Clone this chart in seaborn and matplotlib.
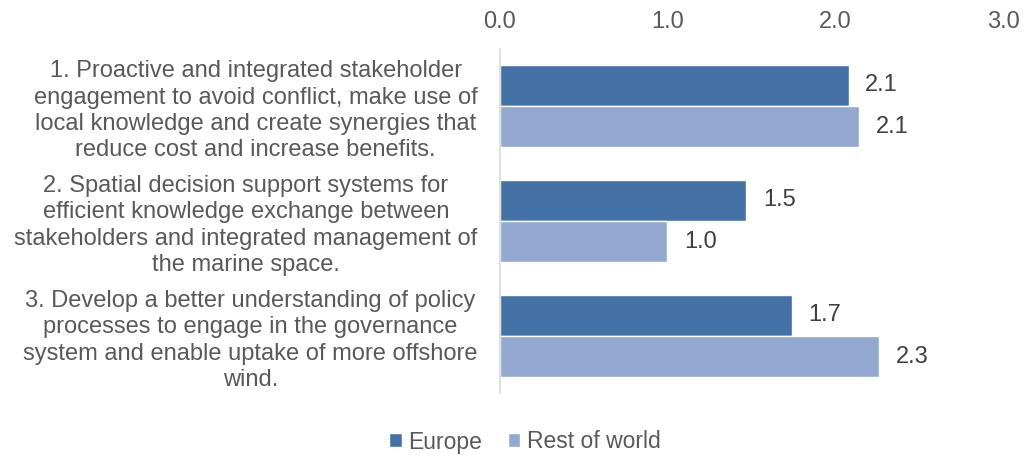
import matplotlib
matplotlib.use("Agg")
import matplotlib.pyplot as plt
import seaborn as sns
import pandas as pd

categories = [
    "1. Proactive and integrated stakeholder\nengagement to avoid conflict, make use of\nlocal knowledge and create synergies that\nreduce cost and increase benefits.",
    "2. Spatial decision support systems for\nefficient knowledge exchange between\nstakeholders and integrated management of\nthe marine space.",
    "3. Develop a better understanding of policy\nprocesses to engage in the governance\nsystem and enable uptake of more offshore\nwind.",
]
series = ["Europe", "Rest of world"]
europe = [2.08, 1.47, 1.74]
rest_of_world = [2.14, 1.00, 2.26]
xticks = [0.0, 1.0, 2.0, 3.0]

rows = []
for c, e, r in zip(categories, europe, rest_of_world):
    rows.append({"category": c, "series": series[0], "value": e})
    rows.append({"category": c, "series": series[1], "value": r})
df = pd.DataFrame(rows)

sns.set_theme(style="white")
plt.rcParams["font.family"] = ["Liberation Sans", "DejaVu Sans"]

FS = 17.0
fig = plt.figure(figsize=(10.24, 4.58), dpi=100)
ax = fig.add_axes([0.488, 0.141, 0.4915, 0.753])

palette = {"Europe": "#4472A6", "Rest of world": "#94A9D1"}
sns.barplot(data=df, y="category", x="value", hue="series", orient="h",
            palette=palette, width=0.72, ax=ax, saturation=1, legend=True)

ax.set_xlim(0, 3.0)
ax.set_xticks(xticks)
ax.set_xticklabels([f"{t:.1f}" for t in xticks])
ax.xaxis.tick_top()
ax.set_xlabel("")
ax.set_ylabel("")
for s in ["top", "right", "bottom"]:
    ax.spines[s].set_visible(False)
ax.spines["left"].set_color("#D9D9D9")
ax.spines["left"].set_linewidth(1.2)
ax.tick_params(axis="x", length=0, pad=11, labelsize=FS, labelcolor="#595959")
ax.tick_params(axis="y", length=0, pad=16, labelsize=FS, labelcolor="#595959")
for lab in ax.get_yticklabels():
    lab.set_multialignment("center")
    lab.set_linespacing(1.25)

for cont in ax.containers:
    ax.bar_label(cont, fmt="%.1f", padding=12, fontsize=FS, color="#404040")

handles, labels = ax.get_legend_handles_labels()
ax.get_legend().remove()
fig.legend(handles, labels, loc="center", bbox_to_anchor=(525/1024, 1-442/458),
           ncol=2, frameon=False, fontsize=16.5, handlelength=0.55, handleheight=0.55,
           handletextpad=0.3, columnspacing=1.1, labelcolor="#595959")

fig.savefig("out.png", dpi=100)
